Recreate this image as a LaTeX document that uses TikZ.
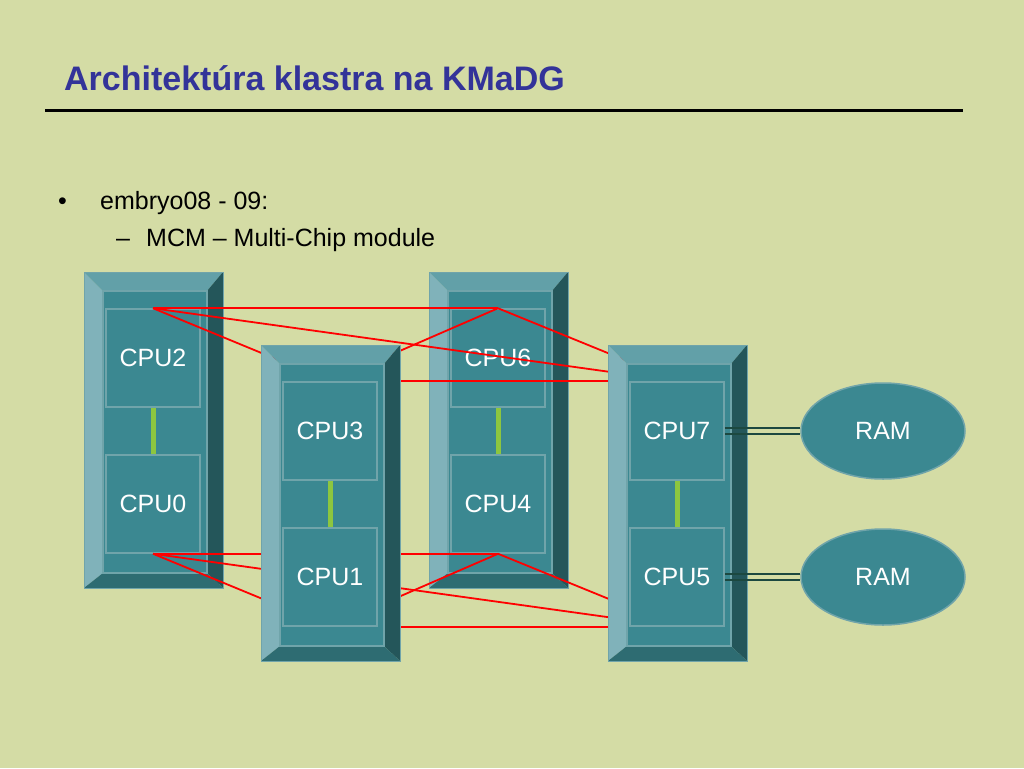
\documentclass[tikz,border=0pt]{standalone}
\usepackage{fontspec}
\setmainfont{Liberation Sans}
\usetikzlibrary{shapes.geometric}

\definecolor{slidebg}{RGB}{212,220,165}
\definecolor{titleblue}{RGB}{51,51,153}
\definecolor{face}{RGB}{59,136,145}
\definecolor{faceline}{RGB}{112,164,170}
\definecolor{bevelleft}{RGB}{128,178,186}
\definecolor{beveltop}{RGB}{98,160,168}
\definecolor{bevelright}{RGB}{36,86,90}
\definecolor{bevelbottom}{RGB}{46,108,114}
\definecolor{linkgreen}{RGB}{141,198,63}
\definecolor{busdark}{RGB}{28,72,64}

\pgfdeclarelayer{back}
\pgfdeclarelayer{wires}
\pgfsetlayers{back,wires,main}

\tikzset{
	cpu/.style={draw=faceline, line width=1.5pt, fill=face, minimum width=94pt,
		minimum height=98pt, inner sep=0pt, text=white, font=\fontsize{25}{28}\selectfont},
	ram/.style={ellipse, draw=faceline, line width=1.5pt, fill=face, minimum width=164pt,
		minimum height=96pt, inner sep=0pt, text=white, font=\fontsize{25}{28}\selectfont},
	link/.style={draw=linkgreen, line width=5pt},
	wire/.style={draw=red, line width=1.8pt},
	bus/.style={draw=busdark, line width=2.2pt},
	bodytext/.style={anchor=base west, inner sep=0pt, font=\fontsize{25}{28}\selectfont},
}

% one multi-chip module: corner x, corner y, upper cpu, lower cpu
\newcommand{\mcm}[4]{%
	\begin{scope}[shift={(#1,#2)}]
		\fill[bevelleft] (0,0) -- (19,19) -- (19,301) -- (0,316) -- cycle;
		\fill[beveltop] (0,0) -- (139,0) -- (123,19) -- (19,19) -- cycle;
		\fill[bevelright] (139,0) -- (139,316) -- (123,301) -- (123,19) -- cycle;
		\fill[bevelbottom] (0,316) -- (139,316) -- (123,301) -- (19,301) -- cycle;
		\draw[faceline, line width=1pt] (0,0) rectangle (139,316);
		\draw[faceline, line width=1.2pt, fill=face] (19,19) rectangle (123,301);
		\node[cpu] (cpu#3) at (69,86) {CPU#3};
		\node[cpu] (cpu#4) at (69,232) {CPU#4};
		\draw[link] (cpu#3) -- (cpu#4);
	\end{scope}}

\begin{document}
\begin{tikzpicture}[x=1pt, y=-1pt]
	
	\begin{pgfonlayer}{back}
		\fill[slidebg] (0,0) rectangle (1024,768);
		\node[anchor=base west, inner sep=0pt, text=titleblue,
			font=\bfseries\fontsize{34}{40}\selectfont] (title) at (64,90) {Architektúra klastra na KMaDG};
		\draw[line width=3pt] (45,110) -- (963,110);
		
		\node[bodytext] (dot) at (58,209) {•};
		\node[bodytext] (item) at (100,209) {embryo08 - 09:};
		\node[bodytext] (dash) at (116,246) {–};
		\node[bodytext] (subitem) at (146,246) {MCM – Multi-Chip module};
		
		\mcm{84}{272}{2}{0}
		\mcm{429}{272}{6}{4}
	\end{pgfonlayer}
	
	\mcm{261}{345}{3}{1}
	\mcm{608}{345}{7}{5}
	
	\node[ram] (ram7) at (883,431) {RAM};
	\node[ram] (ram5) at (883,577) {RAM};
	
	% double buses to memory
	\draw[bus] ([yshift=2.8pt]cpu7.east) -- ([yshift=2.8pt]ram7.west);
	\draw[bus] ([yshift=-2.8pt]cpu7.east) -- ([yshift=-2.8pt]ram7.west);
	\draw[bus] ([yshift=2.8pt]cpu5.east) -- ([yshift=2.8pt]ram5.west);
	\draw[bus] ([yshift=-2.8pt]cpu5.east) -- ([yshift=-2.8pt]ram5.west);
	
	% links between the modules
	\begin{pgfonlayer}{wires}
		\draw[wire] (cpu2.north) -- (cpu6.north);
		\draw[wire] (cpu2.north) -- (cpu3.north);
		\draw[wire] (cpu2.north) -- (cpu7.north);
		\draw[wire] (cpu6.north) -- (cpu3.north);
		\draw[wire] (cpu6.north) -- (cpu7.north);
		\draw[wire] (cpu3.north) -- (cpu7.north);
		
		\draw[wire] (cpu0.south) -- (cpu4.south);
		\draw[wire] (cpu0.south) -- (cpu1.south);
		\draw[wire] (cpu0.south) -- (cpu5.south);
		\draw[wire] (cpu4.south) -- (cpu1.south);
		\draw[wire] (cpu4.south) -- (cpu5.south);
		\draw[wire] (cpu1.south) -- (cpu5.south);
	\end{pgfonlayer}
	
\end{tikzpicture}
\end{document}
